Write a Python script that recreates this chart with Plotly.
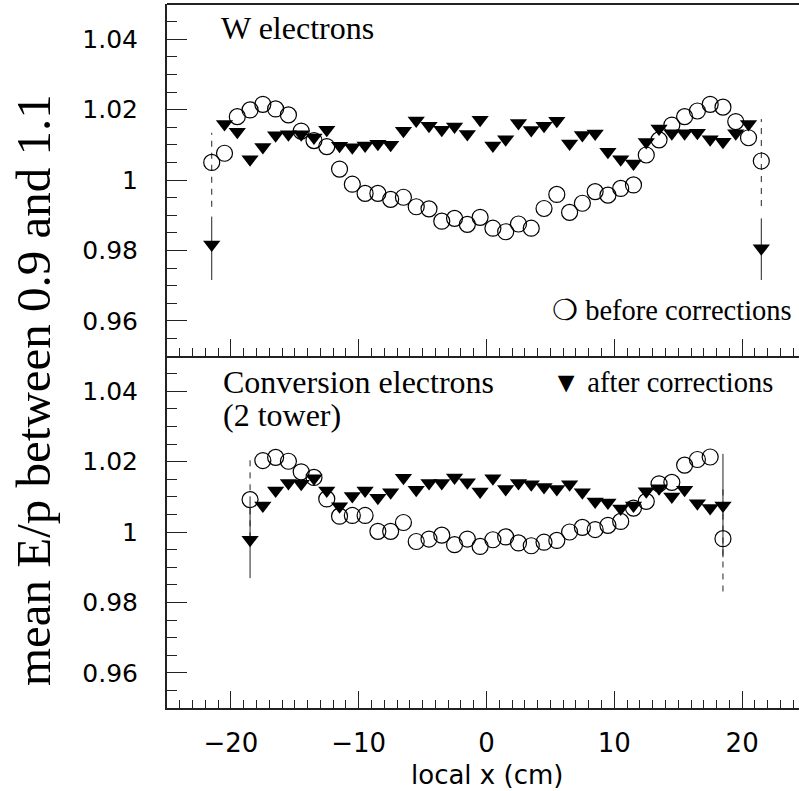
import plotly.graph_objects as go

# ---- W electrons (upper panel) ----
w_x = [-21.5, -20.5, -19.5, -18.5, -17.5, -16.5, -15.5, -14.5, -13.5, -12.5, -11.5,
       -10.5, -9.5, -8.5, -7.5, -6.5, -5.5, -4.5, -3.5, -2.5, -1.5, -0.5,
       0.5, 1.5, 2.5, 3.5, 4.5, 5.5, 6.5, 7.5, 8.5, 9.5, 10.5,
       11.5, 12.5, 13.5, 14.5, 15.5, 16.5, 17.5, 18.5, 19.5, 20.5, 21.5]
w_before = [1.0050, 1.0076, 1.0180, 1.0199, 1.0215, 1.0202, 1.0185, 1.0139, 1.0112, 1.0095, 1.0031,
            0.9988, 0.9962, 0.9962, 0.9945, 0.9951, 0.9924, 0.9918, 0.9883, 0.9891, 0.9874, 0.9894,
            0.9863, 0.9853, 0.9875, 0.9863, 0.9919, 0.9959, 0.9908, 0.9934, 0.9967, 0.9957, 0.9976,
            0.9986, 1.0071, 1.0114, 1.0156, 1.0180, 1.0196, 1.0215, 1.0207, 1.0166, 1.0120, 1.0054]
w_after = [0.9817, 1.0159, 1.0137, 1.0059, 1.0094, 1.0127, 1.0130, 1.0130, 1.0121, 1.0143, 1.0097,
           1.0093, 1.0098, 1.0103, 1.0100, 1.0140, 1.0169, 1.0154, 1.0143, 1.0152, 1.0131, 1.0171,
           1.0098, 1.0116, 1.0162, 1.0142, 1.0154, 1.0168, 1.0104, 1.0128, 1.0132, 1.0080, 1.0059,
           1.0047, 1.0108, 1.0146, 1.0133, 1.0133, 1.0134, 1.0116, 1.0109, 1.0133, 1.0159, 0.9806]
# error bars: only the edge bins carry visible errors
w_before_err_up = [0.0084] + [0.0] * 42 + [0.0119]
w_before_err_dn = [0.0126] + [0.0] * 42 + [0.0128]
w_after_err_up = [0.0079] + [0.0] * 42 + [0.0085]
w_after_err_dn = [0.0101] + [0.0] * 42 + [0.0090]

# ---- Conversion electrons, 2 tower (lower panel) ----
c_x = [-18.5, -17.5, -16.5, -15.5, -14.5, -13.5, -12.5, -11.5, -10.5, -9.5,
       -8.5, -7.5, -6.5, -5.5, -4.5, -3.5, -2.5, -1.5, -0.5,
       0.5, 1.5, 2.5, 3.5, 4.5, 5.5, 6.5, 7.5, 8.5, 9.5,
       10.5, 11.5, 12.5, 13.5, 14.5, 15.5, 16.5, 17.5, 18.5]
c_before = [1.0092, 1.0203, 1.0212, 1.0201, 1.0171, 1.0155, 1.0094, 1.0045, 1.0047, 1.0047,
            1.0002, 1.0002, 1.0027, 0.9973, 0.9980, 0.9991, 0.9964, 0.9980, 0.9959,
            0.9978, 0.9986, 0.9969, 0.9961, 0.9971, 0.9976, 1.0000, 1.0013, 1.0007, 1.0019,
            1.0030, 1.0068, 1.0087, 1.0137, 1.0141, 1.0190, 1.0206, 1.0213, 0.9981]
c_after = [0.9978, 1.0075, 1.0118, 1.0139, 1.0137, 1.0153, 1.0118, 1.0073, 1.0102, 1.0118,
           1.0097, 1.0113, 1.0154, 1.0120, 1.0139, 1.0139, 1.0155, 1.0141, 1.0115,
           1.0153, 1.0122, 1.0139, 1.0136, 1.0128, 1.0122, 1.0136, 1.0113, 1.0087, 1.0084,
           1.0067, 1.0075, 1.0116, 1.0124, 1.0101, 1.0120, 1.0082, 1.0068, 1.0075]
c_before_err_up = [0.0117] + [0.0] * 36 + [0.0150]
c_before_err_dn = [0.0110] + [0.0] * 36 + [0.0150]
c_after_err_up = [0.0107] + [0.0] * 36 + [0.0147]
c_after_err_dn = [0.0109] + [0.0] * 36 + [0.0147]

y_tickvals = [0.96, 0.98, 1.00, 1.02, 1.04]
y_ticktext = ["0.96", "0.98", "1", "1.02", "1.04"]
x_tickvals = [-20, -10, 0, 10, 20]
x_ticktext = ["\u221220", "\u221210", "0", "10", "20"]

INK = "#222222"
SERIF = "Liberation Serif, Times New Roman, serif"
SANS = "DejaVu Sans, sans-serif"


def dashed_bars(xs, ys, up, dn):
    """Vertical segments (None separated) for bins with a nonzero error."""
    bx, by = [], []
    for x, y, u, d in zip(xs, ys, up, dn):
        if u > 0 or d > 0:
            bx += [x, x, None]
            by += [y - d, y + u, None]
    return bx, by


fig = go.Figure()

for xs, yb, ya, bu, bd, au, ad, xa, ya_ref in [
    (w_x, w_before, w_after, w_before_err_up, w_before_err_dn, w_after_err_up, w_after_err_dn, "x", "y"),
    (c_x, c_before, c_after, c_before_err_up, c_before_err_dn, c_after_err_up, c_after_err_dn, "x2", "y2"),
]:
    # "before" error bars are dashed
    bx, by = dashed_bars(xs, yb, bu, bd)
    fig.add_trace(go.Scatter(x=bx, y=by, mode="lines", xaxis=xa, yaxis=ya_ref,
                             line=dict(color=INK, width=1, dash="6px,6px"),
                             showlegend=False, hoverinfo="skip"))
    fig.add_trace(go.Scatter(
        x=xs, y=yb, mode="markers", xaxis=xa, yaxis=ya_ref, showlegend=False,
        marker=dict(symbol="circle-open", size=16, color="black", line=dict(width=1.2, color="black")),
    ))
    fig.add_trace(go.Scatter(
        x=xs, y=ya, mode="markers", xaxis=xa, yaxis=ya_ref, showlegend=False,
        marker=dict(symbol="triangle-down", size=15, color="black", line=dict(width=0)),
        error_y=dict(type="data", symmetric=False, array=au, arrayminus=ad,
                     thickness=1, width=0, color=INK),
    ))

xaxis_common = dict(
    range=[-25, 24.45], showgrid=False, zeroline=False,
    showline=True, linecolor=INK, linewidth=2,
    ticks="inside", tickvals=x_tickvals, ticklen=17, tickwidth=1, tickcolor=INK,
    minor=dict(ticks="inside", tickmode="linear", tick0=0, dtick=1, ticklen=8, tickwidth=1, tickcolor=INK),
)
yaxis_common = dict(
    range=[0.95, 1.05], showgrid=False, zeroline=False,
    showline=True, linecolor=INK, linewidth=2,
    ticks="inside", tickvals=y_tickvals, ticktext=y_ticktext, ticklen=20, tickwidth=1, tickcolor=INK,
    minor=dict(ticks="inside", tickmode="linear", tick0=0, dtick=0.005, ticklen=10, tickwidth=1, tickcolor=INK),
    tickfont=dict(family=SANS, size=25, color="black"), ticklabelstandoff=22,
)

fig.update_layout(
    width=799, height=791,
    margin=dict(l=167, r=0, t=4, b=83, pad=0),
    paper_bgcolor="white", plot_bgcolor="white",
    xaxis=dict(**xaxis_common, anchor="y", domain=[0, 1], showticklabels=False, matches="x2"),
    xaxis2=dict(**xaxis_common, anchor="y2", domain=[0, 1], ticktext=x_ticktext,
                tickfont=dict(family=SANS, size=26, color="black"), ticklabelstandoff=11),
    yaxis=dict(**yaxis_common, anchor="x", domain=[0.5, 1]),
    yaxis2=dict(**yaxis_common, anchor="x2", domain=[0, 0.5]),
    shapes=[dict(type="line", xref="paper", yref="paper", x0=0, x1=1, y0=1, y1=1,
                 line=dict(color=INK, width=2))],
)

ann = []
ann.append(dict(text="W electrons", xref="x", yref="y", x=-20.9, y=1.0432,
                xanchor="left", yanchor="middle", showarrow=False,
                font=dict(family=SERIF, size=32, color="black")))
ann.append(dict(text="\u274d before corrections", xref="x", yref="y", x=5.0, y=0.963,
                xanchor="left", yanchor="middle", showarrow=False,
                font=dict(family=SERIF, size=28.5, color="black")))
ann.append(dict(text="Conversion electrons", xref="x2", yref="y2", x=-20.75, y=1.0425,
                xanchor="left", yanchor="middle", showarrow=False,
                font=dict(family=SERIF, size=32, color="black")))
ann.append(dict(text="(2 tower)", xref="x2", yref="y2", x=-20.75, y=1.0331,
                xanchor="left", yanchor="middle", showarrow=False,
                font=dict(family=SERIF, size=32, color="black")))
ann.append(dict(text="\u25bc after corrections", xref="x2", yref="y2", x=5.0, y=1.0425,
                xanchor="left", yanchor="middle", showarrow=False,
                font=dict(family=SERIF, size=28.5, color="black")))
ann.append(dict(text="mean E/p between 0.9 and 1.1", xref="paper", yref="paper",
                x=-0.21, y=0.452, textangle=-90, xanchor="center", yanchor="middle",
                showarrow=False, font=dict(family=SERIF, size=49, color="black")))
ann.append(dict(text="local x (cm)", xref="x2", yref="paper", x=0, y=-0.095,
                xanchor="center", yanchor="middle", showarrow=False,
                font=dict(family=SANS, size=26, color="black")))
fig.update_layout(annotations=ann)

fig.write_html("out.html")
